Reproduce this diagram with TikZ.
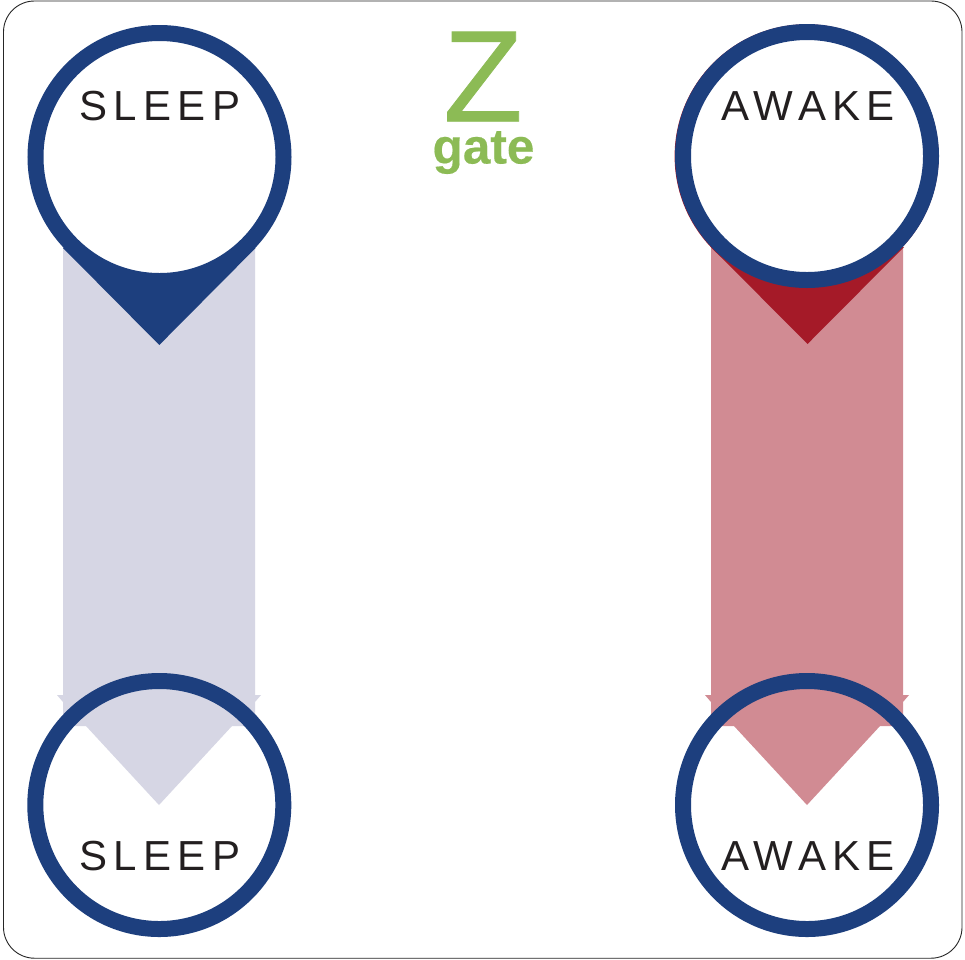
\documentclass[tikz,border=0pt]{standalone}
\usepackage{fontspec}
\setmainfont{Liberation Sans}
\newfontfamily\spaced[LetterSpace=15]{Liberation Sans}
\newfontfamily\heavyz[FakeBold=0.6]{Liberation Sans}
\newfontfamily\heavygate[FakeBold=0.3]{Liberation Sans Bold}
\definecolor{ringblue}{HTML}{1D3F7E}
\definecolor{lav}{HTML}{D6D6E4}
\definecolor{rose}{HTML}{D18B93}
\definecolor{deepred}{HTML}{A51A28}
\definecolor{zgreen}{HTML}{8CBB55}
\definecolor{ink}{HTML}{231F20}
\tikzset{
  x=1pt,y=-1pt,
  ring/.style={draw=ringblue,line width=16pt,circle,minimum size=248pt,inner sep=0pt,outer sep=0pt},
  statelabel/.style={anchor=base,text=ink,inner sep=0pt,font=\spaced\fontsize{42}{50}\selectfont},
}
\begin{document}
\begin{tikzpicture}
\useasboundingbox (0,0) rectangle (965,959);
\fill[white] (0,0) rectangle (965,959);
\draw[draw=black!85,line width=0.9pt,rounded corners=31pt] (3.5,1) rectangle (962,958.2);
% left arrow
\fill[lav] (63,230) -- (255,230) -- (255,695) -- (261,695) -- (255,702) -- (255,726) -- (232,726) -- (159,805) -- (86,726) -- (63,726) -- (63,702) -- (57,695) -- (63,695) -- cycle;
% right arrow
\fill[rose] (711,230) -- (903,230) -- (903,695) -- (909,695) -- (903,702) -- (903,726) -- (880,726) -- (807,805) -- (734,726) -- (711,726) -- (711,702) -- (705,695) -- (711,695) -- cycle;
% left pin
\fill[ringblue] (63,248) -- (159.3,345) -- (255.6,248) -- cycle;
\node[ring,fill=white] (sleepTop) at (159.5,157) {};
% right pin
\fill[deepred] (711,247) -- (807.5,344) -- (904,247) -- cycle;
\fill[deepred] (806.6,156.3) circle[radius=132];
\node[ring,fill=white] (awakeTop) at (807,156) {};
% lower rings
\node[ring] (sleepBottom) at (159.3,805) {};
\node[ring] (awakeBottom) at (807,805) {};
% labels
\node[statelabel] (sleepTopText) at (160,120.7) {SLEEP};
\node[statelabel] (awakeTopText) at (808,120.7) {AWAKE};
\node[statelabel] (sleepBottomText) at (160,870) {SLEEP};
\node[statelabel] (awakeBottomText) at (808,870) {AWAKE};
% logo
\node[anchor=base,text=zgreen,inner sep=0pt,font=\heavyz\fontsize{130}{132}\selectfont] (logoZ) at (483,121.3) {Z};
\node[anchor=base,text=zgreen,inner sep=0pt,font=\heavygate\fontsize{49.5}{52}\selectfont] (logoGate) at (483.5,163.5) {gate};
\end{tikzpicture}
\end{document}
